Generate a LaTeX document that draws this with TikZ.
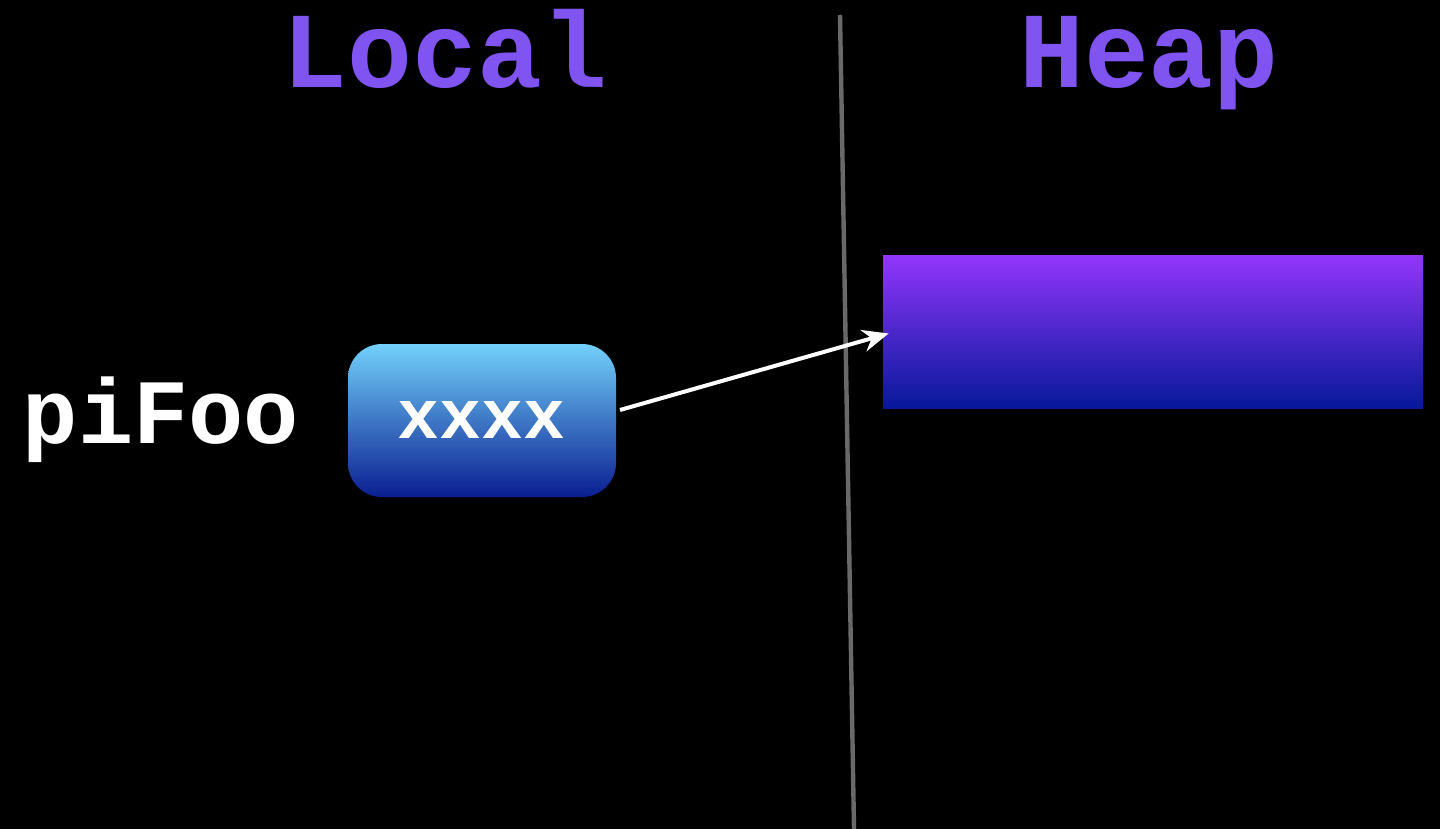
\documentclass[tikz,border=0pt]{standalone}
\usepackage{fontspec}
\newfontfamily\tw{Liberation Mono}
\usetikzlibrary{arrows.meta,calc}
\definecolor{headcol}{RGB}{128,84,240}
\definecolor{divcol}{RGB}{105,105,105}
\definecolor{boxtop}{RGB}{114,208,250}
\definecolor{boxbot}{RGB}{10,30,145}
\definecolor{heaptop}{RGB}{146,54,252}
\definecolor{heapbot}{RGB}{6,24,154}
\tikzset{
  header/.style={text=headcol, font=\tw\bfseries\fontsize{54}{58}\selectfont, anchor=base, inner sep=0pt},
  varname/.style={text=white, font=\tw\bfseries\fontsize{46}{50}\selectfont, anchor=base, inner sep=0pt},
  valbox/.style={rounded corners=17pt, top color=boxtop, bottom color=boxbot, draw=none,
    minimum width=134pt, minimum height=76.5pt, inner sep=0pt},
  heapblk/.style={top color=heaptop, bottom color=heapbot, draw=none,
    minimum width=270pt, minimum height=76.5pt, inner sep=0pt},
  valtext/.style={text=white, font=\tw\bfseries\fontsize{35}{38}\selectfont, inner sep=0pt},
  ptr/.style={draw=white, line width=2pt, -{Stealth[length=13pt,width=11pt]}},
  divider/.style={draw=divcol, line width=2.2pt}
}
\begin{document}
\begin{tikzpicture}[x=0.5pt,y=-0.5pt]
\fill[black] (0,0) rectangle (1440,829);
\useasboundingbox (0,0) rectangle (1440,829);
\coordinate (dtop) at (840,15);
\coordinate (dbot) at (854,829);
\draw[divider] (dtop) -- (dbot);
\node[header] (local) at (445,88) {Local};
\node[header] (heap) at (1149,88) {Heap};
\node[varname] (pifoo) at (161,443) {piFoo};
\node[valbox] (box) at (482,420.5) {};
\node[valtext] (val) at (482,420) {xxxx};
\node[heapblk] (blk) at (1153,331.5) {};
\coordinate (start) at (620,410);
\draw[ptr] (start) -- ($(blk.west)+(6,2)$);
\end{tikzpicture}
\end{document}
